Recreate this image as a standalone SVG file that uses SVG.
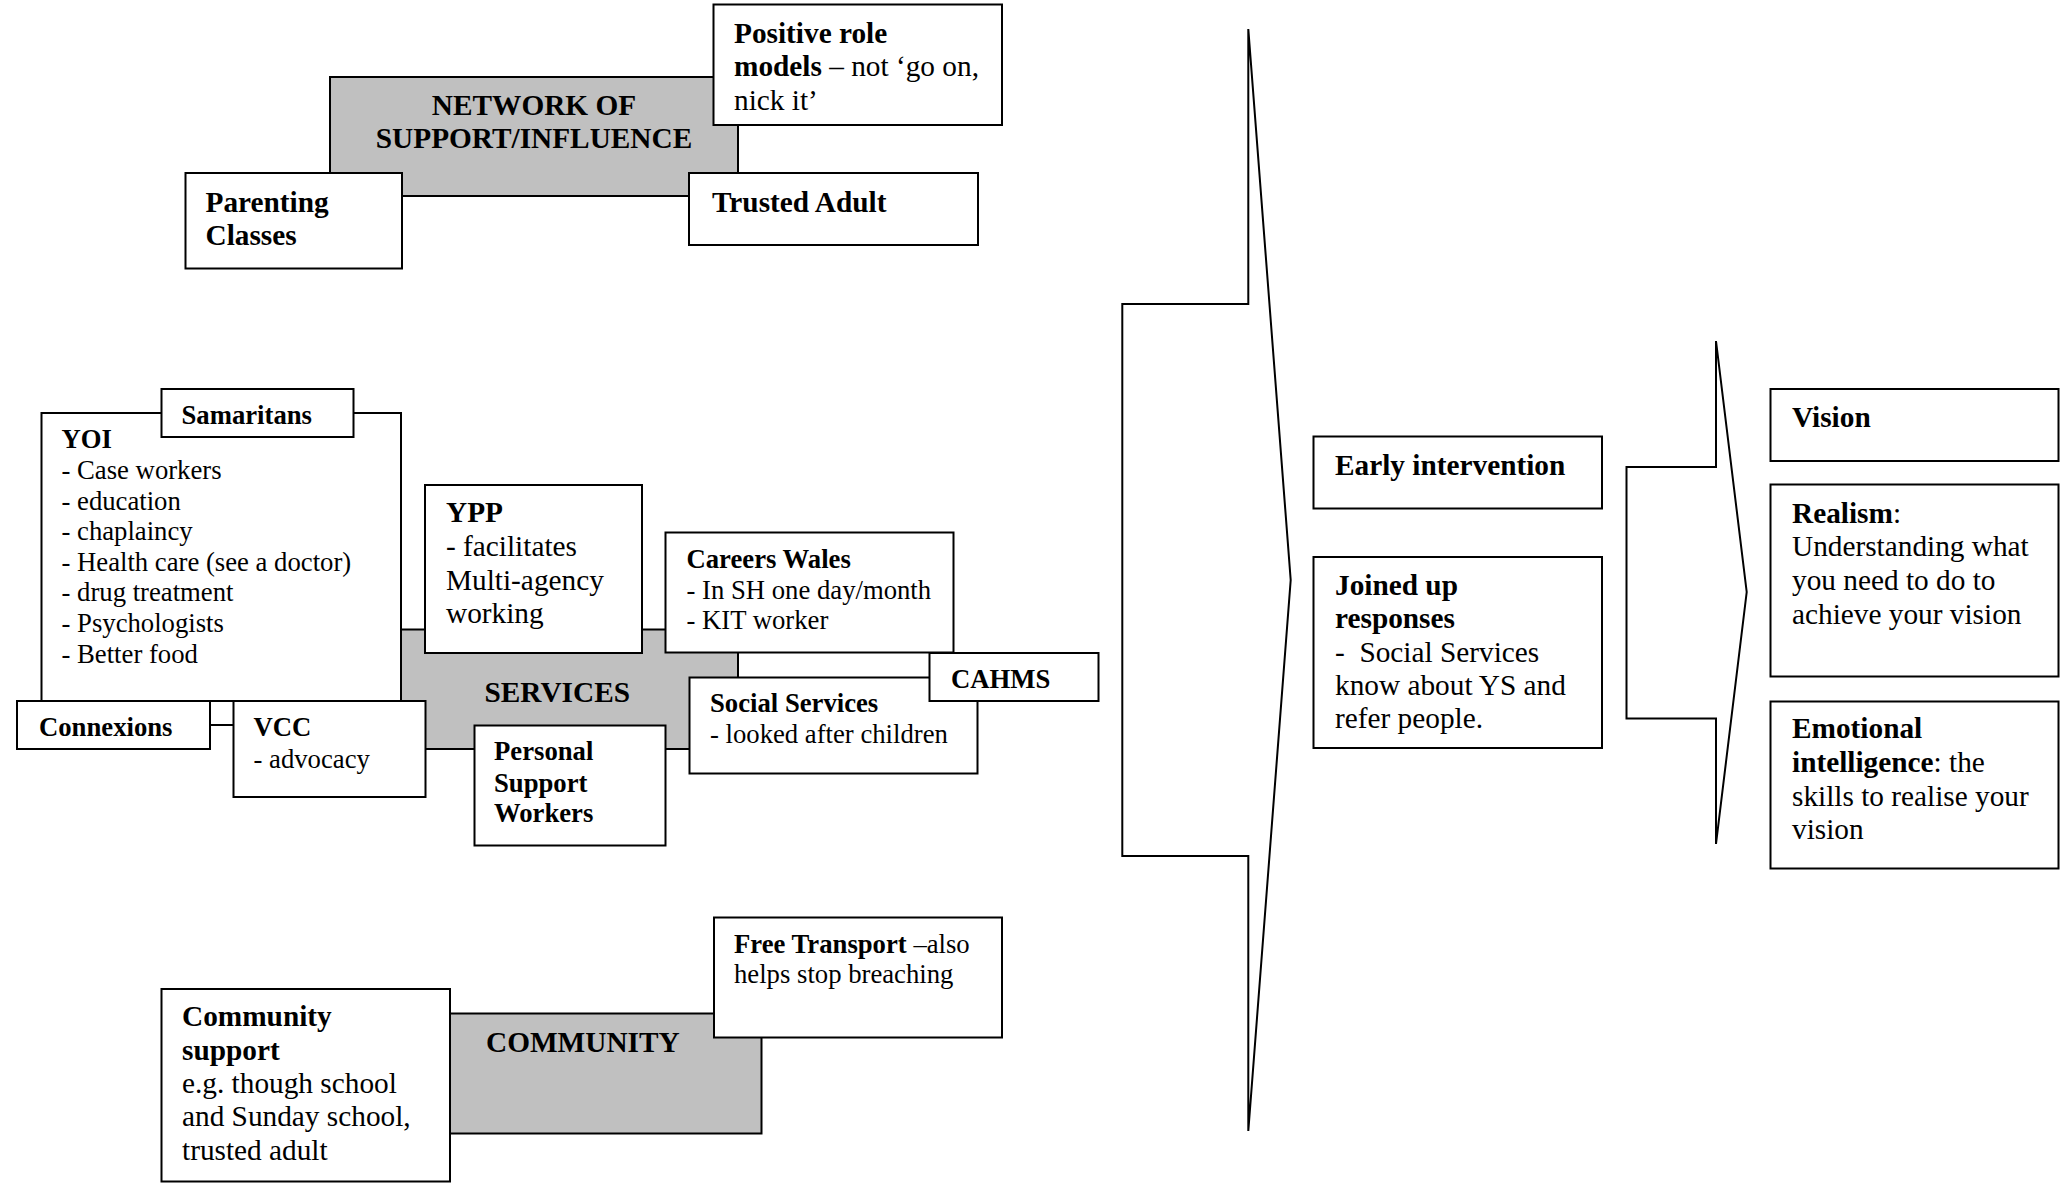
<svg xmlns="http://www.w3.org/2000/svg" width="2067" height="1187" viewBox="0 0 2067 1187">
<style>
.box{fill:#fff;stroke:#000;stroke-width:2}
.hub{fill:#c0c0c0;stroke:#000;stroke-width:2}
.arrow{fill:none;stroke:#000;stroke-width:2;stroke-linejoin:miter}
.ln{stroke:#000;stroke-width:2}
text{font-family:"Liberation Serif","Times New Roman",serif;fill:#000}
.L{font-size:29.3px}
.S{font-size:26.7px}
.b{font-weight:bold}
.c{text-anchor:middle}
</style>
<rect width="2067" height="1187" fill="#fff"/>

<g id="connectors">
<path class="arrow" d="M1248.3,29 L1248.3,304 L1122.3,304 L1122.3,856 L1248.3,856 L1248.3,1131 L1290.7,580 Z"/>
<path class="arrow" d="M1716,341 L1716,467 L1626.5,467 L1626.5,718.5 L1716,718.5 L1716,844 L1746.7,592 Z"/>
<line class="ln" x1="210" y1="725" x2="233.5" y2="725"/>
</g>

<g id="network">
<rect class="hub" x="330" y="77" width="408" height="119"/>
<text class="L b c" x="534" y="115">NETWORK OF</text>
<text class="L b c" x="534" y="148">SUPPORT/INFLUENCE</text>
</g>
<g id="role-models">
<rect class="box" x="713.5" y="4.5" width="288.5" height="120.5"/>
<text class="L" x="734" y="42.5"><tspan class="b">Positive role</tspan></text>
<text class="L" x="734" y="76"><tspan class="b">models</tspan> – not ‘go on,</text>
<text class="L" x="734" y="109.5">nick it’</text>
</g>
<g id="parenting">
<rect class="box" x="185.5" y="173" width="216.5" height="95.5"/>
<text class="L b" x="205.5" y="211.5">Parenting</text>
<text class="L b" x="205.5" y="245">Classes</text>
</g>
<g id="trusted-adult">
<rect class="box" x="689" y="173" width="289" height="72"/>
<text class="L b" x="712" y="211.5">Trusted Adult</text>
</g>

<g id="yoi">
<rect class="box" x="41.5" y="413" width="359.5" height="288"/>
<text class="S b" x="61.5" y="447.5">YOI</text>
<text class="S" x="61.5" y="479">- Case workers</text>
<text class="S" x="61.5" y="509.5">- education</text>
<text class="S" x="61.5" y="540">- chaplaincy</text>
<text class="S" x="61.5" y="570.5">- Health care (see a doctor)</text>
<text class="S" x="61.5" y="601">- drug treatment</text>
<text class="S" x="61.5" y="631.5">- Psychologists</text>
<text class="S" x="61.5" y="662.5">- Better food</text>
</g>
<g id="samaritans">
<rect class="box" x="161.5" y="389" width="192" height="48"/>
<text class="S b" x="181.5" y="424">Samaritans</text>
</g>
<g id="services">
<rect class="hub" x="401" y="629.5" width="337" height="119.5"/>
<text class="L b" x="484.5" y="701.5">SERVICES</text>
</g>
<g id="ypp">
<rect class="box" x="425" y="485" width="217" height="168"/>
<text class="L b" x="446" y="521.5">YPP</text>
<text class="L" x="446" y="556">- facilitates</text>
<text class="L" x="446" y="590">Multi-agency</text>
<text class="L" x="446" y="623">working</text>
</g>
<g id="careers-wales">
<rect class="box" x="665.5" y="532.5" width="288" height="120"/>
<text class="S b" x="686.5" y="568">Careers Wales</text>
<text class="S" x="686.5" y="598.5">- In SH one day/month</text>
<text class="S" x="686.5" y="629">- KIT worker</text>
</g>
<g id="social-services">
<rect class="box" x="689.5" y="677.5" width="288" height="96"/>
<text class="S b" x="710" y="712">Social Services</text>
<text class="S" x="710" y="743">- looked after children</text>
</g>
<g id="cahms">
<rect class="box" x="929.5" y="653" width="169" height="48"/>
<text class="S b" x="951" y="688">CAHMS</text>
</g>
<g id="connexions">
<rect class="box" x="17" y="701" width="193" height="48"/>
<text class="S b" x="39" y="736">Connexions</text>
</g>
<g id="vcc">
<rect class="box" x="233.5" y="701" width="192" height="96"/>
<text class="S b" x="253.5" y="736">VCC</text>
<text class="S" x="253.5" y="767.5">- advocacy</text>
</g>
<g id="psw">
<rect class="box" x="474.5" y="725.5" width="191" height="120"/>
<text class="S b" x="494" y="760">Personal</text>
<text class="S b" x="494" y="791.5">Support</text>
<text class="S b" x="494" y="821.5">Workers</text>
</g>

<g id="community">
<rect class="hub" x="450" y="1013.5" width="311.5" height="120"/>
<text class="L b" x="486" y="1051.5">COMMUNITY</text>
</g>
<g id="community-support">
<rect class="box" x="161.5" y="989" width="288.5" height="192.5"/>
<text class="L b" x="182" y="1026">Community</text>
<text class="L b" x="182" y="1059.5">support</text>
<text class="L" x="182" y="1092.5">e.g. though school</text>
<text class="L" x="182" y="1126">and Sunday school,</text>
<text class="L" x="182" y="1159.5">trusted adult</text>
</g>
<g id="free-transport">
<rect class="box" x="714" y="917.5" width="288" height="120"/>
<text class="S" x="734" y="952.5"><tspan class="b">Free Transport</tspan> –also</text>
<text class="S" x="734" y="983">helps stop breaching</text>
</g>

<g id="early-intervention">
<rect class="box" x="1313.5" y="436.5" width="288.5" height="72"/>
<text class="L b" x="1335" y="474.5">Early intervention</text>
</g>
<g id="joined-up">
<rect class="box" x="1313.5" y="557" width="288.5" height="191"/>
<text class="L b" x="1335" y="594.5">Joined up</text>
<text class="L b" x="1335" y="627.5">responses</text>
<text class="L" x="1335" y="661.5">-&#160; Social Services</text>
<text class="L" x="1335" y="694.5">know about YS and</text>
<text class="L" x="1335" y="728">refer people.</text>
</g>

<g id="vision">
<rect class="box" x="1770.5" y="389" width="288" height="72"/>
<text class="L b" x="1792" y="426.5">Vision</text>
</g>
<g id="realism">
<rect class="box" x="1770.5" y="484.5" width="288" height="192"/>
<text class="L" x="1792" y="523"><tspan class="b">Realism</tspan>:</text>
<text class="L" x="1792" y="556">Understanding what</text>
<text class="L" x="1792" y="590">you need to do to</text>
<text class="L" x="1792" y="623.5">achieve your vision</text>
</g>
<g id="emotional-intelligence">
<rect class="box" x="1770.5" y="701.5" width="288" height="167"/>
<text class="L b" x="1792" y="738">Emotional</text>
<text class="L" x="1792" y="772"><tspan class="b">intelligence</tspan>: the</text>
<text class="L" x="1792" y="806">skills to realise your</text>
<text class="L" x="1792" y="839">vision</text>
</g>
</svg>
